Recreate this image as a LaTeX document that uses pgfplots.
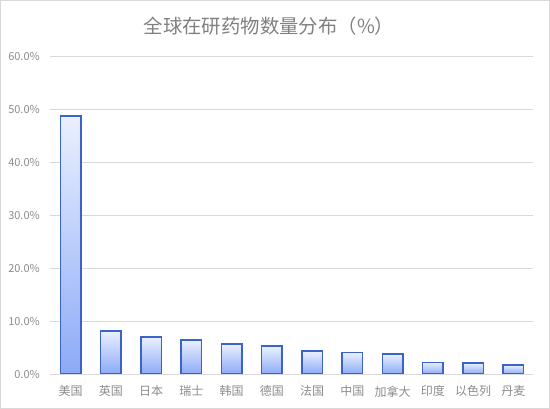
\documentclass[border=0pt]{standalone}
\usepackage{fontspec}
\setmainfont{Noto Sans CJK SC}
\usepackage{pgfplots}
\pgfplotsset{compat=1.18}

\definecolor{gridgray}{HTML}{D9D9D9}
\definecolor{labelgray}{HTML}{8C8C8C}
\definecolor{titlegray}{HTML}{808080}
\definecolor{baredge}{HTML}{3A64CC}
\definecolor{bartop}{HTML}{EAF0FF}
\definecolor{barbottom}{HTML}{8CAAF6}

% one plot per bar, so that each bar gets its own gradient
\pgfplotsset{onebar/.style={draw=baredge, line width=1.5bp, top color=bartop, bottom color=barbottom, bar shift=0pt}}

\begin{document}
\begin{tikzpicture}
\useasboundingbox (0,0) rectangle (550bp,409bp);
\draw[gridgray, line width=1bp] (0.5bp,0.5bp) rectangle (549.5bp,408.5bp);

\node[text=titlegray, font=\fontsize{19.4bp}{23bp}\selectfont] at (269bp,383bp) {全球在研药物数量分布（\%）};

\begin{axis}[
    at={(50.4bp,35bp)},
    anchor=south west,
    scale only axis,
    width=483bp,
    height=317.3bp,
    xmin=-0.5, xmax=11.5,
    ymin=0, ymax=60,
    ytick={0,10,20,30,40,50,60},
    xtick={0,1,2,3,4,5,6,7,8,9,10,11},
    xticklabels={美国,英国,日本,瑞士,韩国,德国,法国,中国,加拿大,印度,以色列,丹麦},
    yticklabel={\pgfmathprintnumber[fixed,fixed zerofill,precision=1,assume math mode=true]{\tick}\%},
    axis x line=bottom,
    axis y line=left,
    x axis line style={draw=gridgray, line width=1bp, -},
    y axis line style={draw=none},
    major tick style={draw=none},
    ymajorgrids=true,
    grid style={draw=gridgray, line width=1bp},
    ticklabel style={text=labelgray},
    yticklabel style={font=\fontsize{11bp}{13bp}\selectfont, xshift=-5bp},
    xticklabel style={font=\fontsize{12bp}{14bp}\selectfont, yshift=-4bp},
    ybar,
    bar width=20.5bp,
]
\addplot[onebar] coordinates {(0,48.8)};
\addplot[onebar] coordinates {(1,8.1)};
\addplot[onebar] coordinates {(2,7.0)};
\addplot[onebar] coordinates {(3,6.45)};
\addplot[onebar] coordinates {(4,5.68)};
\addplot[onebar] coordinates {(5,5.29)};
\addplot[onebar] coordinates {(6,4.32)};
\addplot[onebar] coordinates {(7,4.06)};
\addplot[onebar] coordinates {(8,3.8)};
\addplot[onebar] coordinates {(9,2.19)};
\addplot[onebar] coordinates {(10,2.06)};
\addplot[onebar] coordinates {(11,1.68)};
\end{axis}
\end{tikzpicture}
\end{document}
